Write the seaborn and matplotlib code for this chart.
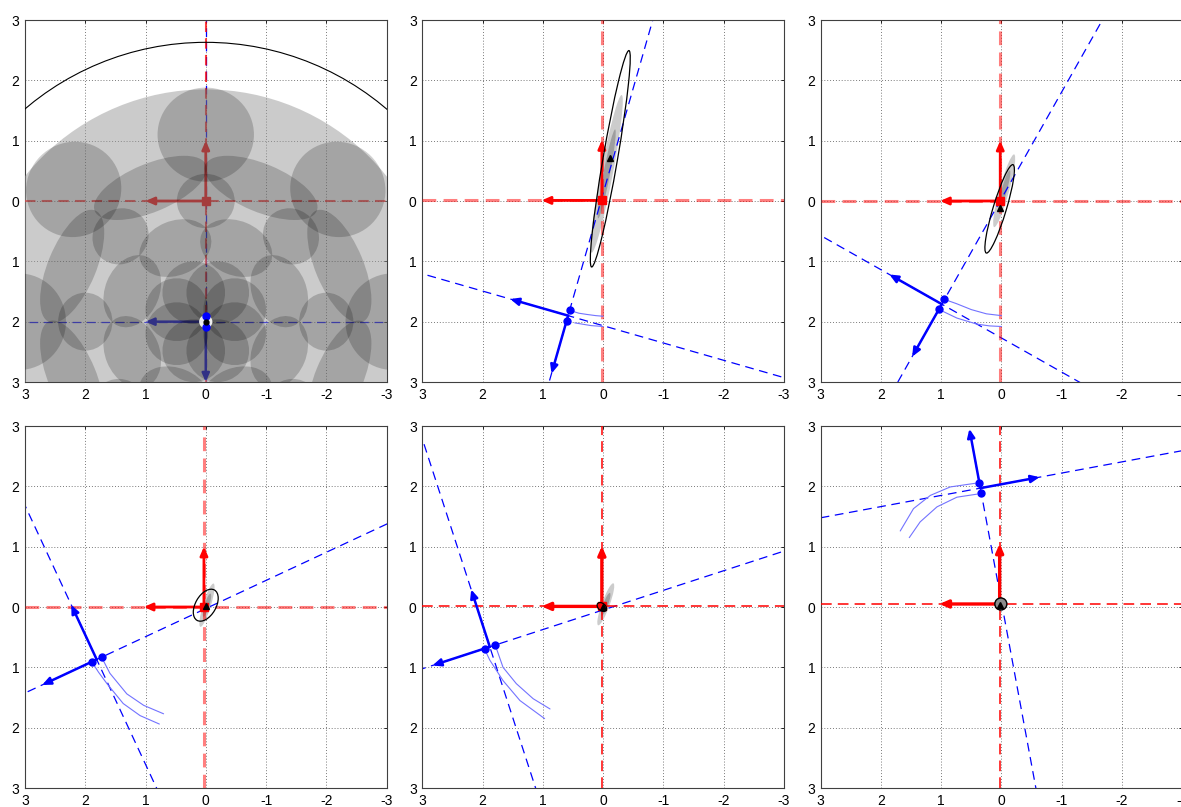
import numpy as np
import matplotlib
matplotlib.use("Agg")
import matplotlib.pyplot as plt
from matplotlib.patches import Ellipse
import seaborn as sns
import pandas as pd

# ---------------- data ----------------
tick_values = [3, 2, 1, 0, -1, -2, -3]
x_tick_labels = ["3", "2", "1", "0", "-1", "-2", "-3"]
y_tick_labels = ["3", "2", "1", "0", "1", "2", "3"]

# red (reference) frame origin per panel
red_origin_x = [0.0, 0.02, 0.02, 0.03, 0.02, 0.03]
red_origin_y = [0.0, 0.01, 0.0, 0.0, 0.01, 0.05]

# blue (sensor) frame pose per panel
blue_x = [0.0, 0.58, 0.99, 1.81, 1.88, 0.35]
blue_y = [-2.0, -1.90, -1.71, -0.87, -0.66, 1.97]
blue_theta_deg = [0.0, 16.0, 29.5, 65.0, 72.0, 169.5]
blue_dot_offset = 0.09

# estimate marker (black triangle)
est_x = [0.0, -0.12, 0.02, 0.0, 0.0, 0.02]
est_y = [-2.0, 0.71, -0.12, 0.02, 0.0, 0.04]

# black outline ellipse
black_cx = [0.0, -0.12, 0.03, 0.0, 0.02, 0.01]
black_cy = [-2.0, 0.70, -0.13, 0.03, 0.0, 0.05]
black_a = [4.63, 1.82, 0.765, 0.29, 0.09, 0.10]
black_b = [4.63, 0.12, 0.11, 0.17, 0.06, 0.10]
black_ang = [0.0, 99.8, 106.8, 120.0, 40.0, 0.0]

# gray filled ellipse
gray_cx = [0.0, -0.06, -0.045, -0.02, -0.045, 0.01]
gray_cy = [-2.0, 0.45, 0.17, 0.03, 0.045, 0.05]
gray_a = [3.85, 1.33, 0.625, 0.375, 0.37, 0.10]
gray_b = [3.85, 0.10, 0.08, 0.065, 0.065, 0.10]
gray_ang = [0.0, 100.8, 105.4, 107.0, 110.0, 0.0]

# darker core of the gray ellipse
core_a = [0.0, 0.75, 0.35, 0.2, 0.2, 0.0]
core_b = [0.0, 0.055, 0.045, 0.04, 0.04, 0.0]

# light-blue traces of the two blue dots (two per panel)
trace_upper_x = [[], [0.50, 0.40, 0.27, 0.12, 0.0],
                 [0.95, 0.75, 0.50, 0.25, 0.0],
                 [1.73, 1.59, 1.31, 1.03, 0.70],
                 [1.79, 1.66, 1.44, 1.16, 0.88],
                 [0.44, 0.85, 1.18, 1.46, 1.68]]
trace_upper_y = [[], [-1.83, -1.86, -1.88, -1.90, -1.91],
                 [-1.63, -1.70, -1.80, -1.87, -1.90],
                 [-0.83, -1.10, -1.44, -1.63, -1.77],
                 [-0.63, -1.00, -1.27, -1.52, -1.69],
                 [2.05, 1.99, 1.85, 1.63, 1.26]]
trace_lower_x = [[], [0.47, 0.35, 0.20, 0.0],
                 [0.97, 0.74, 0.41, 0.20, 0.0],
                 [1.89, 1.78, 1.64, 1.37, 1.09, 0.77],
                 [1.97, 1.88, 1.66, 1.38, 0.97],
                 [0.41, 0.74, 1.07, 1.35, 1.53]]
trace_lower_y = [[], [-2.02, -2.04, -2.065, -2.08],
                 [-1.83, -1.94, -2.04, -2.07, -2.08],
                 [-0.91, -1.08, -1.27, -1.60, -1.80, -1.94],
                 [-0.69, -0.88, -1.22, -1.55, -1.85],
                 [1.87, 1.82, 1.66, 1.41, 1.15]]

# panel 1: rings of translucent uncertainty blobs around the blue frame
ring_dist = [0.52, 1.32, 2.0, 2.4, 3.1]
ring_angle_offset = [22.5, 22.5, 0.0, 22.5, 0.0]
ring_radial = [0.52, 0.45, 0.45, 0.40, 0.78]
ring_tangential = [0.52, 0.62, 0.48, 1.0, 0.80]
ring_count = 8

# ---------------- style ----------------
sns.set_style("white")
plt.rcParams["font.family"] = ["Liberation Sans", "DejaVu Sans"]
plt.rcParams["font.size"] = 10

fig = plt.figure(figsize=(11.81, 8.07), dpi=100)
lefts = [0.02117, 0.35758, 0.69492]
bottoms = [0.52664, 0.02354]
W, H = 0.3061, 0.44857


def arrow(ax, x0, y0, x1, y1, color, lw, z, alpha=1.0):
    ax.annotate("", xy=(x1, y1), xytext=(x0, y0),
                arrowprops=dict(arrowstyle="-|>,head_length=0.5,head_width=0.22",
                                color=color, lw=lw, mutation_scale=10,
                                shrinkA=0, shrinkB=0, alpha=alpha),
                zorder=z, annotation_clip=False)


for i in range(6):
    r, c = divmod(i, 3)
    ax = fig.add_axes([lefts[c], bottoms[r], W, H])
    ax.set_xlim(3, -3)
    ax.set_ylim(-3, 3)
    ax.set_xticks(tick_values)
    ax.set_xticklabels(x_tick_labels)
    ax.set_yticks(tick_values)
    ax.set_yticklabels(y_tick_labels)
    ax.tick_params(direction="in", length=2.5, width=0.6, pad=4, labelsize=10,
                   colors="black", top=True, right=True)
    ax.set_axisbelow(True)
    ax.grid(True, linestyle=(0, (1, 2.2)), color="0.4", lw=0.65)
    for s in ax.spines.values():
        s.set_color("0.25")
        s.set_linewidth(0.8)

    over = 5 if i == 0 else 1.5  # panel 1: gray layer lies over the frames

    # ---- red frame ----
    rx, ry = red_origin_x[i], red_origin_y[i]
    if i == 0:
        ra, rlw, rdash = 0.75, 1.5, (0, (5, 3))
    elif i in (1, 2, 3):
        ra, rlw, rdash = 0.5, 2.2, (0, (4.5, 2.4))
    else:
        ra, rlw, rdash = 1.0, 1.1, (0, (7, 4))
    ax.axhline(ry, color="red", alpha=ra, lw=rlw, linestyle=rdash, zorder=2.6)
    ax.axvline(rx, color="red", alpha=ra, lw=rlw, linestyle=rdash, zorder=2.6)
    arw_lw = 2.0 if i < 4 else 2.4
    arrow(ax, rx, ry, rx + 1.0, ry, "red", arw_lw, 3)
    arrow(ax, rx, ry, rx, ry + 1.0, "red", arw_lw, 3)
    ax.plot([rx], [ry], marker="s", ms=6, color="red", mec="red", zorder=3.2, ls="none")

    # ---- gray / black estimate ellipses ----
    if i == 0:
        ax.add_patch(Ellipse((gray_cx[i], gray_cy[i]), 2 * gray_a[i], 2 * gray_b[i],
                             angle=gray_ang[i], facecolor="0.6", alpha=0.5,
                             edgecolor="none", zorder=over))
        for d, off, rad, tan in zip(ring_dist, ring_angle_offset, ring_radial, ring_tangential):
            for k in range(ring_count):
                a = np.deg2rad(off + 45.0 * k)
                cx = blue_x[i] + d * np.cos(a)
                cy = blue_y[i] + d * np.sin(a)
                ax.add_patch(Ellipse((cx, cy), 2 * rad, 2 * tan,
                                     angle=np.rad2deg(a), facecolor="black",
                                     alpha=0.19, edgecolor="none", zorder=over + 0.1))
        ax.add_patch(Ellipse((black_cx[i], black_cy[i]), 2 * black_a[i], 2 * black_b[i],
                             angle=black_ang[i], facecolor="none", edgecolor="black",
                             lw=0.8, zorder=over + 0.2))
    elif i == 5:
        ax.add_patch(Ellipse((gray_cx[i], gray_cy[i]), 2 * gray_a[i], 2 * gray_b[i],
                             angle=gray_ang[i], facecolor="0.55", edgecolor="black",
                             lw=1.0, zorder=4))
    else:
        ax.add_patch(Ellipse((gray_cx[i], gray_cy[i]), 2 * gray_a[i], 2 * gray_b[i],
                             angle=gray_ang[i], facecolor="0.8", edgecolor="none",
                             zorder=1.5))
        ax.add_patch(Ellipse((gray_cx[i], gray_cy[i]), 2 * core_a[i], 2 * core_b[i],
                             angle=gray_ang[i], facecolor="0.62", edgecolor="none",
                             zorder=1.6))
        ax.add_patch(Ellipse((black_cx[i], black_cy[i]), 2 * black_a[i], 2 * black_b[i],
                             angle=black_ang[i], facecolor="none", edgecolor="black",
                             lw=0.9, zorder=4))

    # ---- blue frame ----
    bx, by = blue_x[i], blue_y[i]
    th = np.deg2rad(blue_theta_deg[i])
    u1 = np.array([np.cos(th), np.sin(th)])
    u2 = np.array([np.sin(th), -np.cos(th)])
    for u in (u1, u2):
        ax.plot([bx - 12 * u[0], bx + 12 * u[0]], [by - 12 * u[1], by + 12 * u[1]],
                color="blue", lw=0.9, linestyle=(0, (7, 4.5)), zorder=2.5)
    arrow(ax, bx, by, bx + u1[0], by + u1[1], "blue", 1.8, 3.5)
    arrow(ax, bx, by, bx + u2[0], by + u2[1], "blue", 1.8, 3.5)

    # traces
    if trace_upper_x[i]:
        df = pd.DataFrame({"x": trace_upper_x[i], "y": trace_upper_y[i]})
        sns.lineplot(data=df, x="x", y="y", sort=False, estimator=None, ax=ax,
                     color=(0.45, 0.45, 1.0), lw=0.8, zorder=3)
        df = pd.DataFrame({"x": trace_lower_x[i], "y": trace_lower_y[i]})
        sns.lineplot(data=df, x="x", y="y", sort=False, estimator=None, ax=ax,
                     color=(0.45, 0.45, 1.0), lw=0.8, zorder=3)

    if i == 0:
        ax.add_patch(Ellipse((bx, by), 0.22, 0.22, facecolor="white",
                             edgecolor="none", alpha=0.9, zorder=over + 0.3))
    dots_x = [bx - blue_dot_offset * u2[0], bx + blue_dot_offset * u2[0]]
    dots_y = [by - blue_dot_offset * u2[1], by + blue_dot_offset * u2[1]]
    ax.plot(dots_x, dots_y, marker="o", ms=5, color="blue", ls="none", zorder=7)

    # estimate marker
    ax.plot([est_x[i]], [est_y[i]], marker="^" if i else "o", ms=5 if i else 3.5,
            color="black", ls="none", zorder=7)

    ax.set_xlabel("")
    ax.set_ylabel("")

fig.savefig("out.png", dpi=100)
